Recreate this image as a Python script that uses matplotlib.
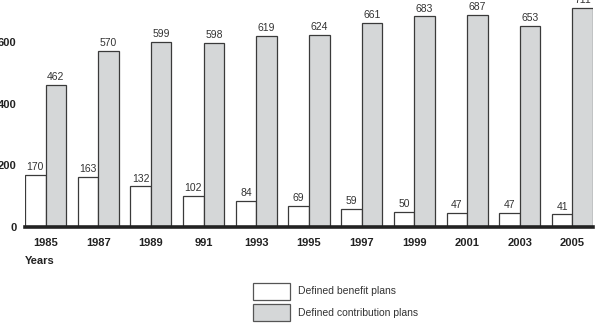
import matplotlib.pyplot as plt
from matplotlib.patches import Rectangle
import numpy as np

plt.rcParams['font.family'] = ['Liberation Sans', 'DejaVu Sans']

years = ['1985', '1987', '1989', '991', '1993', '1995', '1997', '1999', '2001', '2003', '2005']
benefit = [170, 163, 132, 102, 84, 69, 59, 50, 47, 47, 41]
contribution = [462, 570, 599, 598, 619, 624, 661, 683, 687, 653, 711]
series_names = ['Defined benefit plans', 'Defined contribution plans']

GREY = '#d5d7d8'
EDGE = '#3a3a3a'
TXT = '#333333'
DARK = '#222222'

W, H = 605, 324
fig = plt.figure(figsize=(6.05, 3.24), dpi=100)
ax = fig.add_axes([25 / W, 97 / H, 568 / W, 227 / H])

x = np.arange(len(years))
w = 0.39
ax.bar(x - w / 2, benefit, w, color='white', edgecolor=EDGE, linewidth=0.9, zorder=2)
ax.bar(x + w / 2, contribution, w, color=GREY, edgecolor=EDGE, linewidth=0.9, zorder=2)

for xi, v in zip(x, benefit):
    ax.text(xi - w / 2, v + 9, str(v), ha='center', va='bottom', fontsize=7.5, color=TXT)
for xi, v in zip(x, contribution):
    ax.text(xi + w / 2, v + 9, str(v), ha='center', va='bottom', fontsize=7.5, color=TXT,
            clip_on=False)

ax.set_xlim(-w, len(years) - 1 + w)
ax.set_ylim(0, 736)
ax.set_xticks(x)
ax.set_xticklabels(years, fontsize=8, fontweight='bold', color=DARK)
ax.set_yticks([0, 200, 400, 600])
ax.set_yticklabels(['0', '200', '400', '600'], fontsize=8, fontweight='bold', color=DARK)
ax.tick_params(axis='both', length=0)
ax.tick_params(axis='x', pad=8)
ax.tick_params(axis='y', pad=6)

for s in ['top', 'right', 'left', 'bottom']:
    ax.spines[s].set_visible(False)
ax.axhline(0, color=DARK, linewidth=2.6, zorder=3, clip_on=False)

fig.text(25 / W, 1 - 261 / H, 'Years', fontsize=8, fontweight='bold', color=DARK,
         ha='left', va='center')

# legend boxes drawn in figure pixels
for i, (name, fc) in enumerate(zip(series_names, ['white', GREY])):
    top = 283 + i * 21
    fig.add_artist(Rectangle((253 / W, 1 - (top + 17) / H), 37 / W, 17 / H,
                             facecolor=fc, edgecolor='#555555', linewidth=0.9,
                             transform=fig.transFigure))
    fig.text(298 / W, 1 - (top + 8.5) / H, name, fontsize=7.5, color=TXT,
             ha='left', va='center')

fig.savefig('out.png', dpi=100)
